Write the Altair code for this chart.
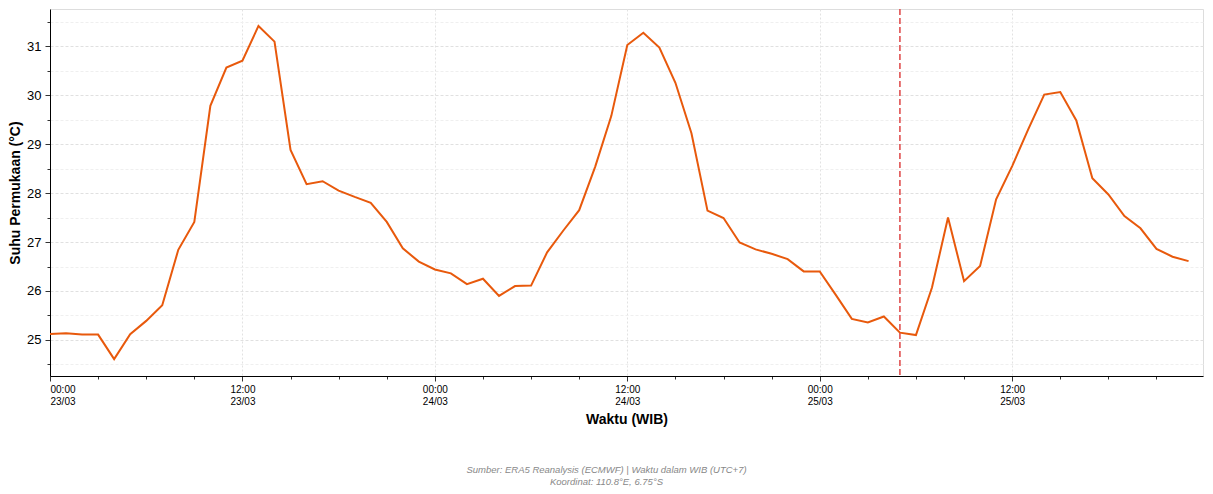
import altair as alt
import pandas as pd

# Hourly surface temperature (°C), 23/03 00:00 WIB .. 25/03 23:00 WIB
hours = list(range(72))
temps = [
    25.12, 25.14, 25.11, 25.11, 24.61, 25.12, 25.39, 25.71, 26.84, 27.41,
    29.78, 30.56, 30.70, 31.41, 31.09, 28.88, 28.18, 28.24, 28.05, 27.92,
    27.80, 27.41, 26.87, 26.60, 26.44, 26.36, 26.14, 26.25, 25.90, 26.10,
    26.11, 26.79, 27.23, 27.65, 28.54, 29.57, 31.02, 31.27, 30.97, 30.25,
    29.22, 27.64, 27.49, 26.99, 26.85, 26.76, 26.65, 26.40, 26.40, 25.92,
    25.43, 25.36, 25.48, 25.15, 25.10, 26.07, 27.50, 26.20, 26.51, 27.87,
    28.55, 29.30, 30.01, 30.06, 29.48, 28.30, 27.97, 27.53, 27.28, 26.86,
    26.70, 26.61,
]
marker_hour = [53]

tick_hours = [0, 12, 24, 36, 48, 60]
tick_times = ["00:00", "12:00", "00:00", "12:00", "00:00", "12:00"]
tick_dates = ["23/03", "23/03", "24/03", "24/03", "25/03", "25/03"]
minor_step = 3
x_domain = [0, 71.9]
y_domain = [24.265, 31.756]
y_ticks = [24.5 + 0.5 * i for i in range(15)]

x_title = "Waktu (WIB)"
y_title = "Suhu Permukaan (°C)"
footnote = ["Sumber: ERA5 Reanalysis (ECMWF) | Waktu dalam WIB (UTC+7)",
            "Koordinat: 110.8°E, 6.75°S"]

df = pd.DataFrame({"hour": hours, "temp": temps})
mdf = pd.DataFrame({"hour": marker_hour})

label_expr = "''"
for h, t, d in reversed(list(zip(tick_hours, tick_times, tick_dates))):
    label_expr = f"datum.value == {h} ? ['{t}', '{d}'] : ({label_expr})"

x_values = list(range(0, 72, minor_step))
major_test = "datum.value % 12 == 0"
int_test = "abs(datum.value - round(datum.value)) < 0.001"

font = "Liberation Sans"

x_axis = alt.Axis(
    values=x_values,
    labelExpr=label_expr,
    title=x_title,
    labelFont=font, labelFontSize=10, labelColor="#000",
    labelLineHeight=12, labelPadding=3, labelAngle=0,
    titleFont=font, titleFontSize=14, titleFontWeight="bold", titleColor="#000",
    titlePadding=6,
    domainColor="#000", domainWidth=1,
    tickColor="#333",
    tickSize={"condition": {"test": major_test, "value": 5}, "value": 3},
    grid=True,
    gridColor="#e2e2e2",
    gridDash=[2, 2],
    gridOpacity={"condition": {"test": major_test, "value": 1}, "value": 0},
)

y_axis = alt.Axis(
    values=y_ticks,
    labelExpr=f"{int_test} ? format(datum.value, 'd') : ''",
    title=y_title,
    labelFont=font, labelFontSize=13, labelColor="#000", labelPadding=4,
    titleFont=font, titleFontSize=14, titleFontWeight="bold", titleColor="#000",
    titlePadding=4,
    domainColor="#000", domainWidth=1,
    tickColor="#333",
    tickSize={"condition": {"test": int_test, "value": 5}, "value": 3},
    grid=True,
    gridColor={"condition": {"test": int_test, "value": "#e0e0e0"}, "value": "#efefef"},
    gridDash=[3, 2],
    gridOpacity=1,
)

x_enc = alt.X("hour:Q", scale=alt.Scale(domain=x_domain, nice=False, zero=False), axis=x_axis)

line = alt.Chart(df).mark_line(color="#e8590c", strokeWidth=2, clip=True).encode(
    x=x_enc,
    y=alt.Y("temp:Q", scale=alt.Scale(domain=y_domain, nice=False, zero=False), axis=y_axis),
)

rule = alt.Chart(mdf).mark_rule(color="#e05050", strokeWidth=1.6, strokeDash=[6, 3]).encode(
    x=alt.X("hour:Q"),
)

chart = alt.layer(line, rule).properties(
    width=1153,
    height=367,
    padding={"left": 50, "top": 9, "right": 10, "bottom": 118},
    autosize=alt.AutoSizeParams(type="none"),
    title=alt.TitleParams(
        text=footnote,
        orient="bottom",
        anchor="middle",
        frame="group",
        dx=-20,
        offset=39,
        font=font,
        fontSize=9.5,
        fontStyle="italic",
        fontWeight="normal",
        color="#888888",
        lineHeight=11.5,
    ),
).configure_view(stroke=None).configure(background="white")

chart.save("out.html", embed_options={"renderer": "svg", "actions": False})
